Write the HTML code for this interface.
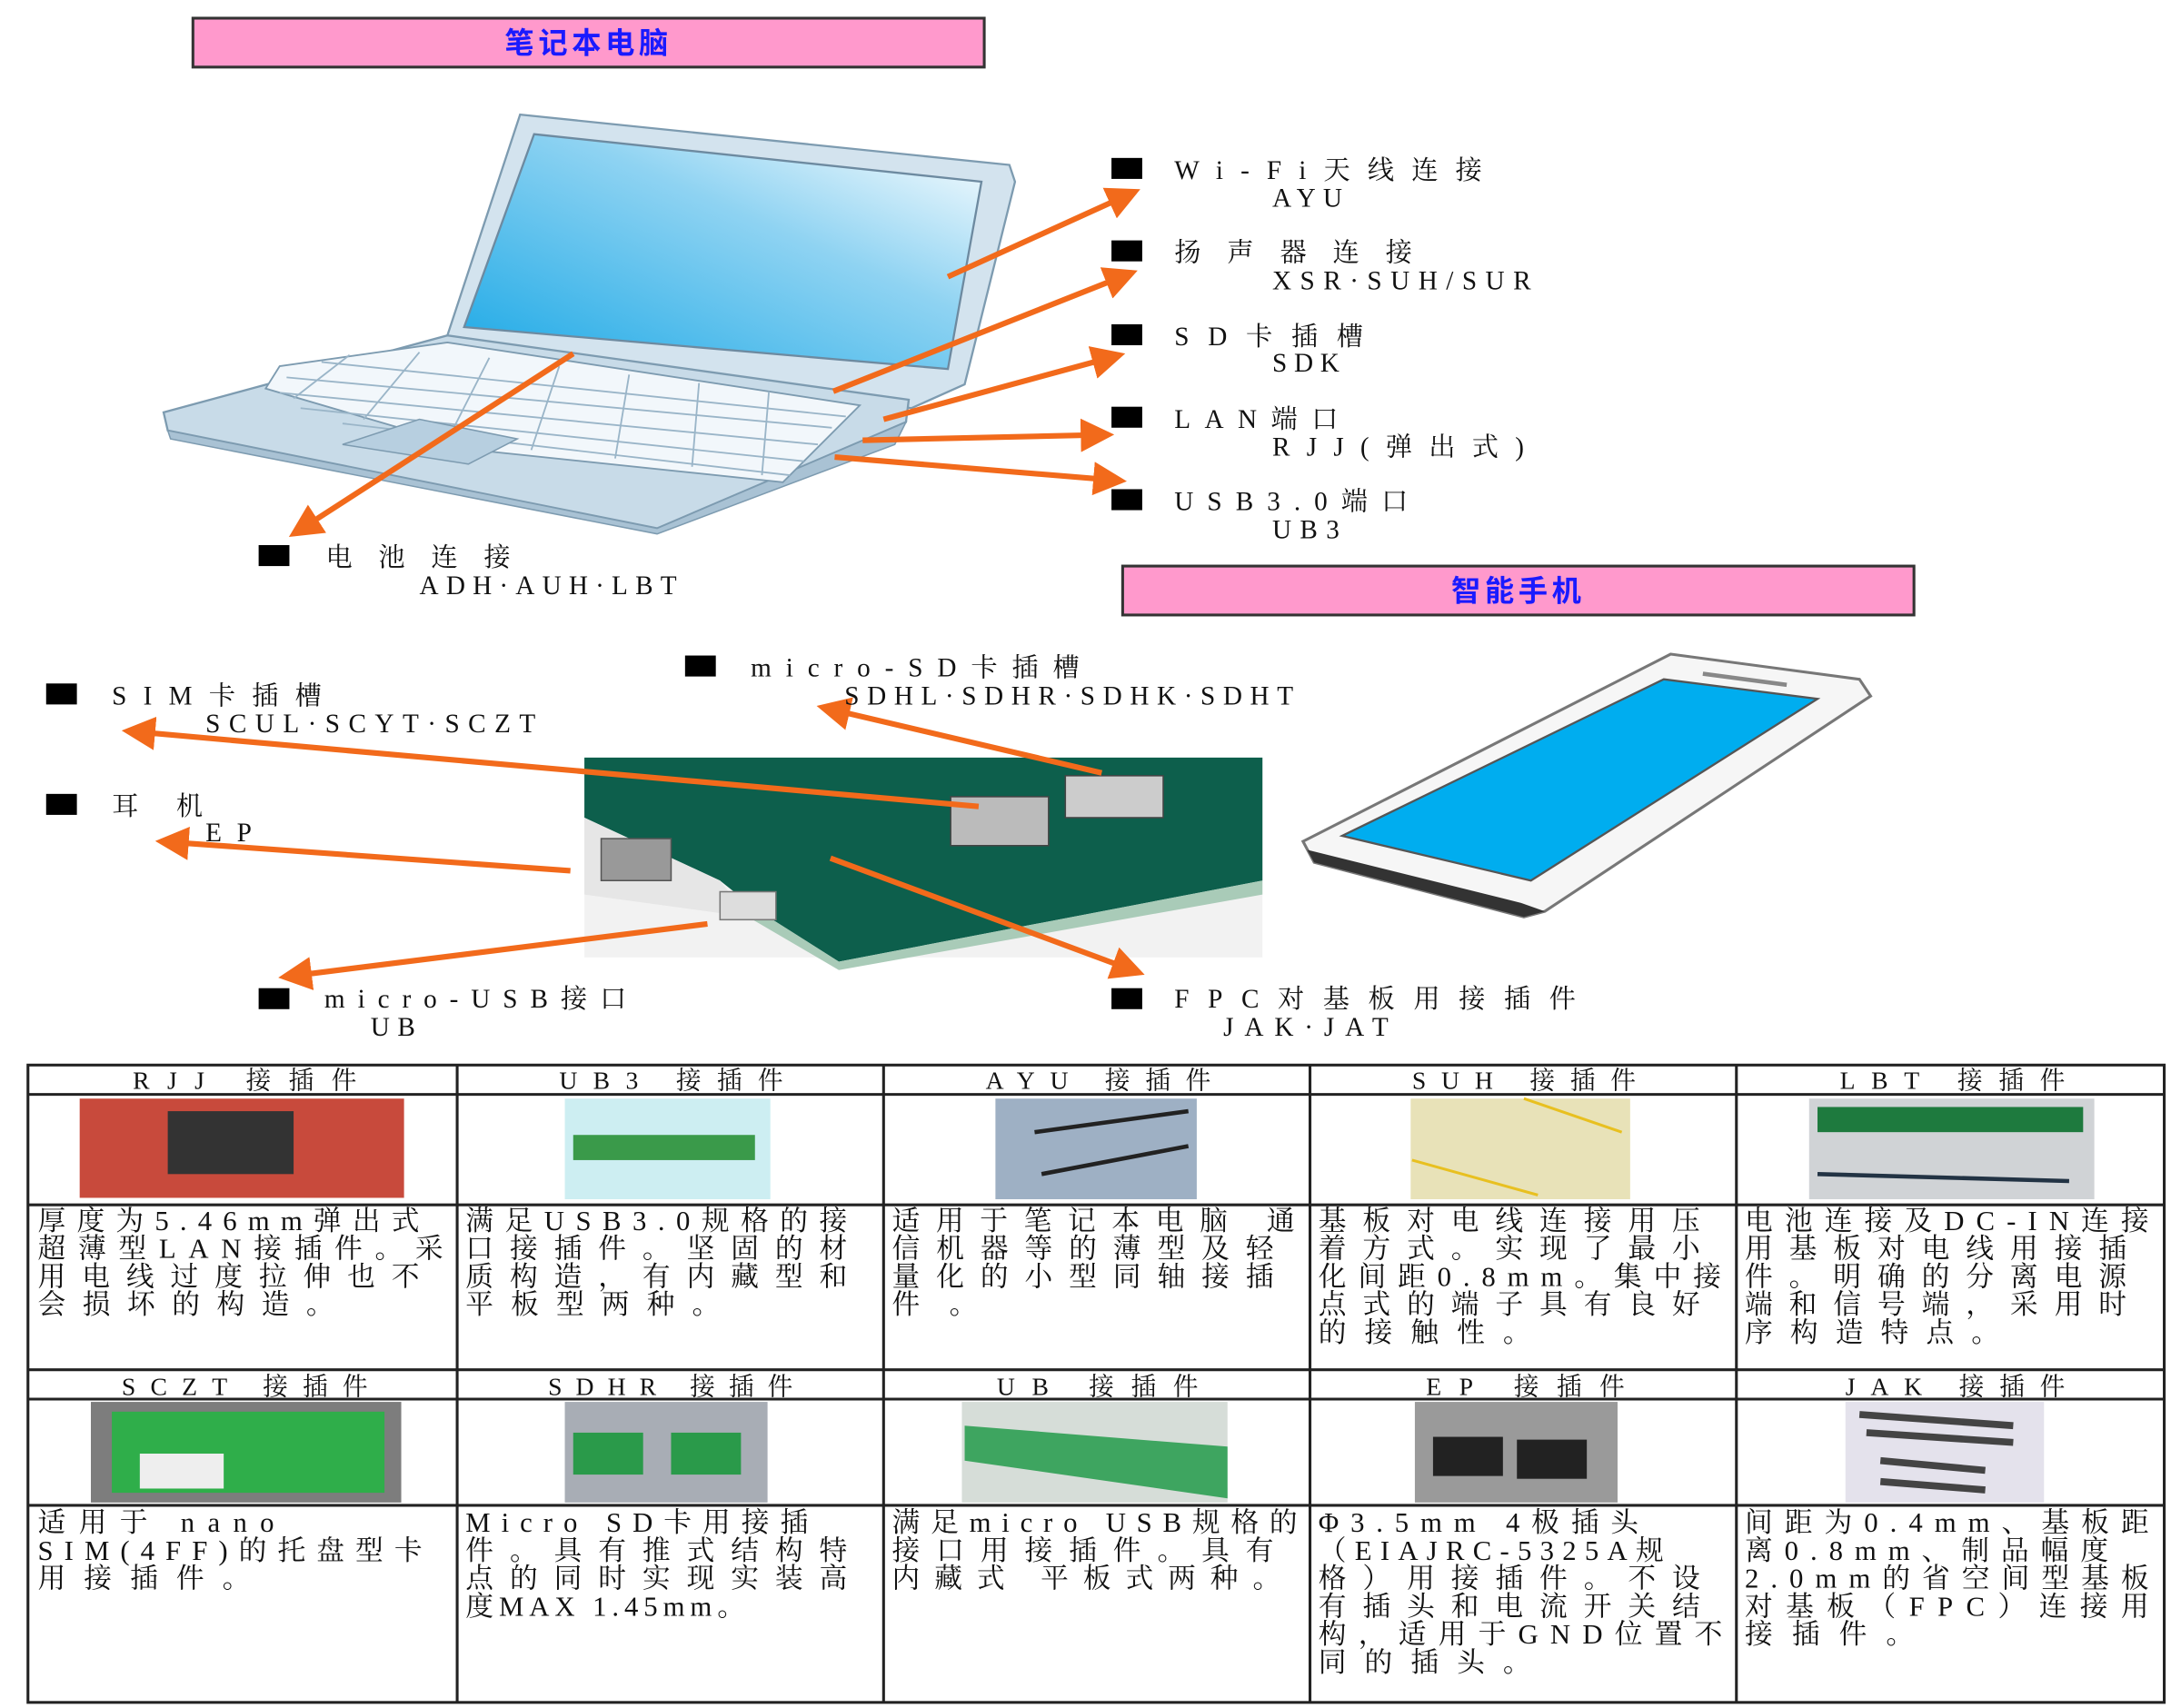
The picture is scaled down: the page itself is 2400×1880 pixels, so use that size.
<!DOCTYPE html>
<html><head><meta charset="utf-8"><style>
html,body{margin:0;padding:0;background:#fff;}
svg{display:block;}
text{font-family:"Liberation Serif","Noto Serif CJK SC",serif;fill:#111;}
.l{font-size:19px;}
.h{font-size:18px;}
.t{font-size:20px;}
.p{font-family:"Liberation Sans","Noto Sans CJK SC",sans-serif;font-weight:bold;font-size:21px;fill:#1a1aff;letter-spacing:3px;}
</style></head><body>
<svg width="2400" height="1880" viewBox="0 0 1560 1222" xmlns="http://www.w3.org/2000/svg">
<defs>
<marker id="a" markerWidth="6" markerHeight="6" refX="5" refY="3" orient="auto" markerUnits="strokeWidth">
<path d="M0,0 L6,3 L0,6 Z" fill="#f26a1b"/></marker>
<linearGradient id="scr" x1="0" y1="1" x2="1" y2="0"><stop offset="0" stop-color="#1aa8e6"/><stop offset="0.6" stop-color="#8fd3f2"/><stop offset="1" stop-color="#ffffff"/></linearGradient>
</defs>

<rect x="138" y="13" width="566" height="35" fill="#ff99cc" stroke="#333" stroke-width="2"/>
<text x="421" y="38" class="p" text-anchor="middle">笔记本电脑</text>
<rect x="803" y="405" width="566" height="35" fill="#ff99cc" stroke="#333" stroke-width="2"/>
<text x="1086" y="430" class="p" text-anchor="middle">智能手机</text>

<!-- laptop -->
<polygon points="372,82 722,118 726,130 690,275 652,292 318,252 320,240" fill="#d3e3ee" stroke="#7d9bb0" stroke-width="1.5"/>
<polygon points="382,96 702,130 678,264 332,234" fill="url(#scr)" stroke="#6d8aa0" stroke-width="1.5"/>
<polygon points="117,295 320,240 650,286 648,302 470,378 120,308" fill="#c8dbe8" stroke="#7d9bb0" stroke-width="1.5"/>
<polygon points="120,308 470,378 648,302 640,318 470,382 122,314" fill="#a9c2d4" stroke="#7d9bb0"/>
<polygon points="200,262 320,245 615,290 560,345 340,322 190,278" fill="#f2f7fb" stroke="#7d9bb0" stroke-width="1.2"/>
<g stroke="#9ab5c8" stroke-width="1.2">
<line x1="205" y1="270" x2="595" y2="306"/><line x1="230" y1="259" x2="605" y2="298"/>
<line x1="200" y1="281" x2="585" y2="318"/><line x1="215" y1="292" x2="575" y2="330"/>
<line x1="245" y1="303" x2="565" y2="340"/>
<line x1="250" y1="254" x2="210" y2="285"/><line x1="300" y1="252" x2="260" y2="300"/><line x1="350" y1="256" x2="320" y2="315"/>
<line x1="400" y1="262" x2="380" y2="322"/><line x1="450" y1="268" x2="440" y2="328"/><line x1="500" y1="274" x2="495" y2="334"/>
<line x1="550" y1="280" x2="545" y2="340"/>
</g>
<polygon points="245,318 300,300 370,314 335,332" fill="#b7cfe0" stroke="#7d9bb0"/>

<!-- phone -->
<polygon points="1195,468 1330,486 1338,498 1105,652 1090,656 940,617 932,602" fill="#f6f6f6" stroke="#777" stroke-width="2"/>
<polygon points="1105,652 1090,656 940,617 935,608 1088,646" fill="#333"/>
<polygon points="1190,486 1300,500 1095,630 960,598" fill="#00adef" stroke="#555" stroke-width="1.5"/>
<line x1="1218" y1="482" x2="1278" y2="490" stroke="#888" stroke-width="3"/>

<!-- board image -->
<rect x="418" y="542" width="485" height="143" fill="#f2f2f2"/>
<polygon points="418,542 903,542 903,630 600,688 540,650 515,630 418,585" fill="#0d5f4c"/>
<polygon points="540,650 600,688 903,630 903,640 600,694 535,656" fill="#a9cbb8"/>
<polygon points="418,585 515,630 535,656 418,640" fill="#e6e6e6"/>
<rect x="430" y="600" width="50" height="30" fill="#999" stroke="#555"/>
<rect x="680" y="570" width="70" height="35" fill="#bbb" stroke="#444"/>
<rect x="762" y="555" width="70" height="30" fill="#ccc" stroke="#444"/>
<rect x="515" y="638" width="40" height="20" fill="#ddd" stroke="#777"/>

<g stroke="#f26a1b" stroke-width="4" fill="none" marker-end="url(#a)">
<line x1="678" y1="198" x2="812" y2="137"/>
<line x1="596" y1="280" x2="810" y2="195"/>
<line x1="632" y1="300" x2="801" y2="254"/>
<line x1="617" y1="315" x2="793" y2="311"/>
<line x1="597" y1="327" x2="802" y2="344"/>
<line x1="410" y1="253" x2="210" y2="382"/>
<line x1="700" y1="577" x2="91" y2="523"/>
<line x1="788" y1="553" x2="588" y2="506"/>
<line x1="408" y1="623" x2="115" y2="602"/>
<line x1="506" y1="661" x2="203" y2="699"/>
<line x1="594" y1="614" x2="815" y2="696"/>
</g>

<g class="l" lengthAdjust="spacing">
<rect x="795" y="113" width="22" height="15" fill="#000"/><text x="840" y="128" textLength="220">Wi-Fi天线连接</text><text x="910" y="148" textLength="50">AYU</text>
<rect x="795" y="172" width="22" height="15" fill="#000"/><text x="840" y="187" textLength="170">扬声器连接</text><text x="910" y="207" textLength="185">XSR·SUH/SUR</text>
<rect x="795" y="232" width="22" height="15" fill="#000"/><text x="840" y="247" textLength="135">SD卡插槽</text><text x="910" y="266" textLength="48">SDK</text>
<rect x="795" y="291" width="22" height="15" fill="#000"/><text x="840" y="306" textLength="117">LAN端口</text><text x="910" y="326" textLength="180">RJJ(弹出式)</text>
<rect x="795" y="350" width="22" height="15" fill="#000"/><text x="840" y="365" textLength="167">USB3.0端口</text><text x="910" y="385" textLength="48">UB3</text>
<rect x="185" y="390" width="22" height="15" fill="#000"/><text x="233" y="405" textLength="132">电池连接</text><text x="300" y="425" textLength="184">ADH·AUH·LBT</text>
<rect x="490" y="469" width="22" height="15" fill="#000"/><text x="537" y="484" textLength="235">micro-SD卡插槽</text><text x="604" y="504" textLength="321">SDHL·SDHR·SDHK·SDHT</text>
<rect x="33" y="489" width="22" height="15" fill="#000"/><text x="80" y="504" textLength="150">SIM卡插槽</text><text x="147" y="524" textLength="236">SCUL·SCYT·SCZT</text>
<rect x="33" y="568" width="22" height="15" fill="#000"/><text x="80" y="583" textLength="65">耳机</text><text x="147" y="602" textLength="33">EP</text>
<rect x="185" y="707" width="22" height="15" fill="#000"/><text x="232" y="721" textLength="216">micro-USB接口</text><text x="265" y="741" textLength="32">UB</text>
<rect x="795" y="707" width="22" height="15" fill="#000"/><text x="840" y="721" textLength="287">FPC对基板用接插件</text><text x="875" y="741" textLength="118">JAK·JAT</text>
</g>

<g stroke="#222" stroke-width="2" fill="none">
<rect x="20" y="762" width="1528" height="456"/>
<line x1="20" y1="783" x2="1548" y2="783"/>
<line x1="20" y1="862" x2="1548" y2="862"/>
<line x1="20" y1="980" x2="1548" y2="980"/>
<line x1="20" y1="1001" x2="1548" y2="1001"/>
<line x1="20" y1="1077" x2="1548" y2="1077"/>
<line x1="327" y1="762" x2="327" y2="1218"/>
<line x1="632" y1="762" x2="632" y2="1218"/>
<line x1="937" y1="762" x2="937" y2="1218"/>
<line x1="1242" y1="762" x2="1242" y2="1218"/>
</g>
<rect x="57" y="786" width="232" height="71" fill="#c84a3c"/><rect x="120" y="795" width="90" height="45" fill="#333"/>
<rect x="404" y="786" width="147" height="72" fill="#cdeef2"/><rect x="410" y="812" width="130" height="18" fill="#3a9a4a"/>
<rect x="712" y="786" width="144" height="72" fill="#9eb0c4"/><line x1="740" y1="810" x2="850" y2="795" stroke="#222" stroke-width="3"/><line x1="745" y1="840" x2="850" y2="820" stroke="#222" stroke-width="3"/>
<rect x="1009" y="786" width="157" height="72" fill="#e8e2b8"/><g stroke="#e8c020" stroke-width="2"><line x1="1090" y1="786" x2="1160" y2="810"/><line x1="1010" y1="830" x2="1100" y2="855"/></g>
<rect x="1294" y="786" width="204" height="72" fill="#d0d3d6"/><rect x="1300" y="792" width="190" height="18" fill="#1e7a3e"/><g stroke="#234" stroke-width="3"><line x1="1300" y1="840" x2="1480" y2="845"/></g>
<rect x="65" y="1003" width="222" height="72" fill="#7d7d7d"/><rect x="80" y="1010" width="195" height="58" fill="#2fae4a"/><rect x="100" y="1040" width="60" height="25" fill="#eee"/>
<rect x="404" y="1003" width="145" height="72" fill="#a8adb5"/><rect x="410" y="1025" width="50" height="30" fill="#2a9a4a"/><rect x="480" y="1025" width="50" height="30" fill="#2a9a4a"/>
<rect x="688" y="1003" width="190" height="72" fill="#d6ddd8"/><polygon points="690,1020 878,1035 878,1072 690,1045" fill="#3ea560"/>
<rect x="1012" y="1003" width="145" height="72" fill="#9a9a9a"/><rect x="1025" y="1028" width="50" height="28" fill="#222"/><rect x="1085" y="1030" width="50" height="28" fill="#222"/>
<rect x="1320" y="1003" width="142" height="72" fill="#e4e2ec"/><g stroke="#444" stroke-width="5"><line x1="1330" y1="1012" x2="1440" y2="1020"/><line x1="1335" y1="1025" x2="1440" y2="1032"/><line x1="1345" y1="1045" x2="1420" y2="1052"/><line x1="1345" y1="1060" x2="1420" y2="1066"/></g>

<g class="h" lengthAdjust="spacing">
<text x="95" y="779" textLength="160">RJJ 接插件</text><text x="400" y="779" textLength="160">UB3 接插件</text><text x="705" y="779" textLength="161">AYU 接插件</text><text x="1010" y="779" textLength="160">SUH 接插件</text><text x="1316" y="779" textLength="161">LBT 接插件</text>
<text x="87" y="998" textLength="176">SCZT 接插件</text><text x="392" y="998" textLength="175">SDHR 接插件</text><text x="713" y="998" textLength="144">UB 接插件</text><text x="1020" y="998" textLength="142">EP 接插件</text><text x="1320" y="998" textLength="157">JAK 接插件</text>
</g>
<g class="t" lengthAdjust="spacing">
<text x="27" y="880" textLength="273">厚度为5.46mm弹出式</text><text x="27" y="900" textLength="290">超薄型LAN接插件。采</text><text x="27" y="920" textLength="273">用电线过度拉伸也不</text><text x="27" y="940" textLength="212">会损坏的构造。</text>
<text x="333" y="880" textLength="273">满足USB3.0规格的接</text><text x="333" y="900" textLength="273">口接插件。坚固的材</text><text x="333" y="920" textLength="273">质构造，有内藏型和</text><text x="333" y="940" textLength="182">平板型两种。</text>
<text x="638" y="880" textLength="288">适用于笔记本电脑 通</text><text x="638" y="900" textLength="273">信机器等的薄型及轻</text><text x="638" y="920" textLength="273">量化的小型同轴接插</text><text x="638" y="940" textLength="61">件。</text>
<text x="943" y="880" textLength="273">基板对电线连接用压</text><text x="943" y="900" textLength="273">着方式。实现了最小</text><text x="943" y="920" textLength="288">化间距0.8mm。集中接</text><text x="943" y="940" textLength="273">点式的端子具有良好</text><text x="943" y="960" textLength="152">的接触性。</text>
<text x="1248" y="880" textLength="289">电池连接及DC-IN连接</text><text x="1248" y="900" textLength="273">用基板对电线用接插</text><text x="1248" y="920" textLength="273">件。明确的分离电源</text><text x="1248" y="940" textLength="273">端和信号端，采用时</text><text x="1248" y="960" textLength="182">序构造特点。</text>
<text x="27" y="1096" textLength="169">适用于 nano</text><text x="27" y="1116" textLength="275">SIM(4FF)的托盘型卡</text><text x="27" y="1136" textLength="152">用接插件。</text>
<text x="333" y="1096" textLength="245">Micro SD卡用接插</text><text x="333" y="1116" textLength="273">件。具有推式结构特</text><text x="333" y="1136" textLength="273">点的同时实现实装高</text><text x="333" y="1156" textLength="200">度MAX 1.45mm。</text>
<text x="638" y="1096" textLength="290">满足micro USB规格的</text><text x="638" y="1116" textLength="273">接口用接插件。具有</text><text x="638" y="1136" textLength="278">内藏式 平板式两种。</text>
<text x="943" y="1096" textLength="229">Φ3.5mm 4极插头</text><text x="943" y="1116" textLength="247">（EIAJRC-5325A规</text><text x="943" y="1136" textLength="273">格）用接插件。不设</text><text x="943" y="1156" textLength="273">有插头和电流开关结</text><text x="943" y="1176" textLength="289">构，适用于GND位置不</text><text x="943" y="1196" textLength="152">同的插头。</text>
<text x="1248" y="1096" textLength="289">间距为0.4mm、基板距</text><text x="1248" y="1116" textLength="260">离0.8mm、制品幅度</text><text x="1248" y="1136" textLength="289">2.0mm的省空间型基板</text><text x="1248" y="1156" textLength="289">对基板（FPC）连接用</text><text x="1248" y="1176" textLength="121">接插件。</text>
</g>
</svg>
</body></html>
